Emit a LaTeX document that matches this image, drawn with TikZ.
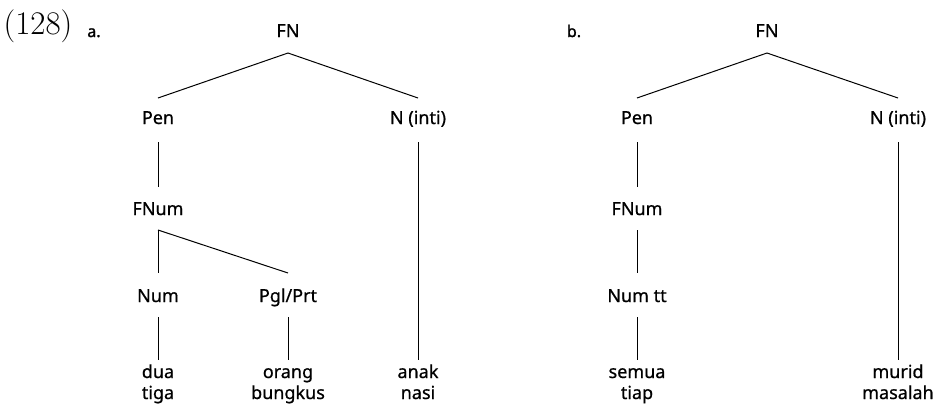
\documentclass[tikz,border=0pt]{standalone}
\usepackage{fontspec}
\newfontfamily\labfont{Noto Sans}[FakeBold=0.7]
\newfontfamily\markfont{Noto Sans}[FakeBold=1.6]
\tikzset{
  lab/.style={anchor=base, inner sep=0pt, font=\labfont\fontsize{18}{21}\selectfont},
  words/.style={lab, align=center},
  branch/.style={line width=1pt},
}

\begin{document}
\begin{tikzpicture}[x=1pt,y=-1pt]
\useasboundingbox (0,0) rectangle (938,405);
\node[anchor=base, inner sep=0pt, font=\fontsize{33}{38}\selectfont] (exnum) at (38,34) {(128)};
\node[lab, font=\markfont\fontsize{16}{20}\selectfont] (exa) at (94,37) {a.};
\node[lab, font=\markfont\fontsize{16}{20}\selectfont] (exb) at (574,37) {b.};

% tree a
\node[lab] (fnA) at (288,37) {FN};
\node[lab] (penA) at (158,124) {Pen};
\node[lab] (intiA) at (418,124) {N (inti)};
\node[lab] (fnumA) at (158,215) {FNum};
\node[lab] (numA) at (158,302) {Num};
\node[lab] (pglA) at (288,302) {Pgl/Prt};
\node[words] (duaA) at (158,399) {dua\\tiga};
\node[words] (orangA) at (288,399) {orang\\bungkus};
\node[words] (anakA) at (418,399) {anak\\nasi};

\draw[branch] ([yshift=-16pt]fnA.base) -- ([yshift=26pt]penA.base);
\draw[branch] ([yshift=-16pt]fnA.base) -- ([yshift=26pt]intiA.base);
\draw[branch] ([yshift=-18pt]penA.base) -- ([yshift=28pt]fnumA.base);
\draw[branch] ([yshift=-15pt]fnumA.base) -- ([yshift=29pt]numA.base);
\draw[branch] ([yshift=-15pt]fnumA.base) -- ([yshift=29pt]pglA.base);
\draw[branch] ([yshift=-15pt]numA.base) -- ([yshift=39pt]duaA.base);
\draw[branch] ([yshift=-15pt]pglA.base) -- ([yshift=39pt]orangA.base);
\draw[branch] ([yshift=-18pt]intiA.base) -- ([yshift=39pt]anakA.base);

% tree b
\node[lab] (fnB) at (767,37) {FN};
\node[lab] (penB) at (637,124) {Pen};
\node[lab] (intiB) at (898,124) {N (inti)};
\node[lab] (fnumB) at (637,215) {FNum};
\node[lab] (numB) at (637,302) {Num tt};
\node[words] (semuaB) at (637,399) {semua\\tiap};
\node[words] (muridB) at (898,399) {murid\\masalah};

\draw[branch] ([yshift=-16pt]fnB.base) -- ([yshift=26pt]penB.base);
\draw[branch] ([yshift=-16pt]fnB.base) -- ([yshift=26pt]intiB.base);
\draw[branch] ([yshift=-18pt]penB.base) -- ([yshift=28pt]fnumB.base);
\draw[branch] ([yshift=-15pt]fnumB.base) -- ([yshift=29pt]numB.base);
\draw[branch] ([yshift=-15pt]numB.base) -- ([yshift=39pt]semuaB.base);
\draw[branch] ([yshift=-18pt]intiB.base) -- ([yshift=39pt]muridB.base);
\end{tikzpicture}
\end{document}
